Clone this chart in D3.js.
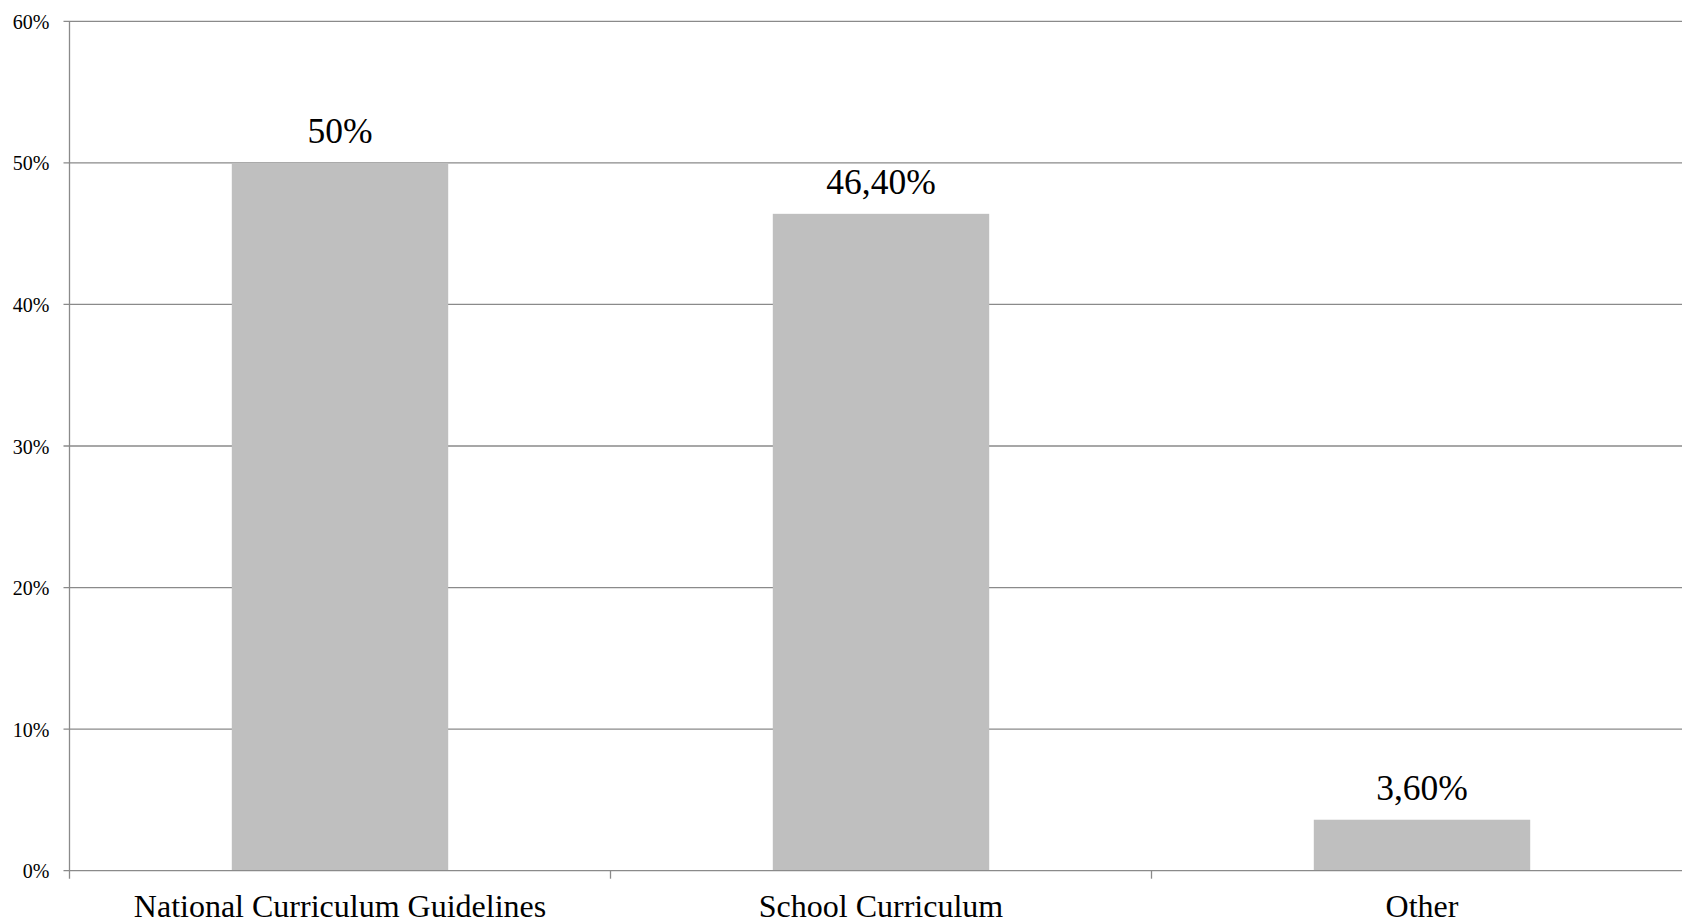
<!DOCTYPE html>
<html>
<head>
<meta charset="utf-8">
<script src="https://cdn.jsdelivr.net/npm/d3@7"></script>
<style>
  html, body { margin: 0; padding: 0; background: #fff; overflow: hidden; }
  svg { display: block; }
  text { font-family: "Liberation Serif", "Times New Roman", serif; fill: #000; }
</style>
</head>
<body>
<svg id="chart" width="1682" height="922"></svg>
<script>
const categories = ["National Curriculum Guidelines", "School Curriculum", "Other"];
const values = [50, 46.4, 3.6];
const valueLabels = ["50%", "46,40%", "3,60%"];
const yTicks = [0, 10, 20, 30, 40, 50, 60];
const yTickLabels = ["0%", "10%", "20%", "30%", "40%", "50%", "60%"];

(function () {
const svg = d3.select("#chart");
const mLeft = 69.5, mRight = 1692.5, mTop = 21.3, mBottom = 870.7;
const gridColor = "#8a8a8a";

const x = d3.scaleBand().domain(categories).range([mLeft, mRight]).paddingInner(0.6).paddingOuter(0.3);
const xCat = d3.scaleBand().domain(categories).range([mLeft, mRight]).padding(0);
const y = d3.scaleLinear().domain([0, 60]).range([mBottom, mTop]);

// gridlines
svg.append("g").selectAll("line").data(yTicks.filter(d => d > 0)).join("line")
  .attr("x1", mLeft - 6).attr("x2", mRight)
  .attr("y1", d => y(d)).attr("y2", d => y(d))
  .attr("stroke", gridColor).attr("stroke-width", 1.3);

// bars
svg.append("g").selectAll("rect").data(values).join("rect")
  .attr("x", (d, i) => x(categories[i]))
  .attr("width", x.bandwidth())
  .attr("y", d => y(d))
  .attr("height", d => y(0) - y(d))
  .attr("fill", "#bfbfbf");

// y axis
svg.append("line").attr("x1", mLeft).attr("x2", mLeft).attr("y1", mTop).attr("y2", mBottom + 8)
  .attr("stroke", gridColor).attr("stroke-width", 1.3);
svg.append("line").attr("x1", mLeft - 6).attr("x2", mRight).attr("y1", y(0)).attr("y2", y(0))
  .attr("stroke", gridColor).attr("stroke-width", 1.3);

// x ticks at category boundaries
svg.append("g").selectAll("line").data(categories.slice(1)).join("line")
  .attr("x1", d => xCat(d)).attr("x2", d => xCat(d))
  .attr("y1", mBottom).attr("y2", mBottom + 8)
  .attr("stroke", gridColor).attr("stroke-width", 1.3);

// y tick labels
svg.append("g").selectAll("text").data(yTicks).join("text")
  .attr("x", 49.5).attr("y", d => y(d)).attr("dy", "0.38em")
  .attr("text-anchor", "end").attr("font-size", 20)
  .text((d, i) => yTickLabels[i]);

// category labels
svg.append("g").selectAll("text").data(categories).join("text")
  .attr("x", d => xCat(d) + xCat.bandwidth() / 2)
  .attr("y", mBottom + 46.5)
  .attr("text-anchor", "middle").attr("font-size", 32)
  .text(d => d);

// value labels
svg.append("g").selectAll("text").data(values).join("text")
  .attr("x", (d, i) => x(categories[i]) + x.bandwidth() / 2)
  .attr("y", d => y(d) - 19.5)
  .attr("text-anchor", "middle").attr("font-size", 35.5)
  .text((d, i) => valueLabels[i]);
})();
</script>
</body>
</html>
